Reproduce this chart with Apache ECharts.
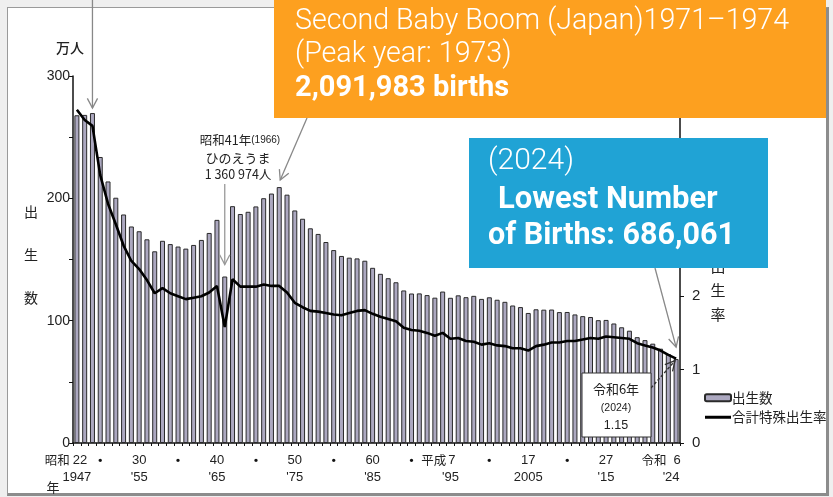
<!DOCTYPE html>
<html><head><meta charset="utf-8">
<script src="https://cdn.jsdelivr.net/npm/echarts@6/dist/echarts.min.js"></script>
<style>
html,body{margin:0;padding:0;background:#efefef;}
#wrap{position:relative;width:833px;height:497px;overflow:hidden;}
#panel{position:absolute;left:7px;top:7px;width:818px;height:485px;background:#fff;border:1px solid #9a9a9a;border-right:3px solid #8c8c8c;border-bottom:3px solid #8c8c8c;}
#c{position:absolute;left:0;top:0;width:833px;height:497px;}
</style>
</head><body><div id="wrap"><div id="panel"></div><div id="c"></div></div>
<script>
const years = ['1947','1948','1949','1950','1951','1952','1953','1954','1955','1956','1957','1958','1959','1960','1961','1962','1963','1964','1965','1966','1967','1968','1969','1970','1971','1972','1973','1974','1975','1976','1977','1978','1979','1980','1981','1982','1983','1984','1985','1986','1987','1988','1989','1990','1991','1992','1993','1994','1995','1996','1997','1998','1999','2000','2001','2002','2003','2004','2005','2006','2007','2008','2009','2010','2011','2012','2013','2014','2015','2016','2017','2018','2019','2020','2021','2022','2023','2024'];
// 出生数 (万人)
const births = [267.9,268.2,269.7,233.8,213.8,200.5,186.8,177.0,173.1,166.5,156.7,165.3,162.6,160.6,158.9,161.9,166.0,171.7,182.4,136.1,193.6,187.2,189.0,193.4,200.1,203.9,209.2,203.0,190.1,183.3,175.5,170.9,164.3,157.7,152.9,151.5,150.9,149.0,143.2,138.3,134.7,131.4,124.7,122.2,122.3,120.9,118.8,123.8,118.7,120.7,119.2,120.3,117.8,119.1,117.1,115.4,112.4,111.1,106.3,109.3,109.0,109.1,107.0,107.1,105.1,103.7,103.0,100.4,100.6,97.7,94.6,91.8,86.5,84.1,81.2,77.1,72.7,68.6];
// 合計特殊出生率
const tfr = [4.54,4.40,4.32,3.65,3.26,2.98,2.69,2.48,2.37,2.22,2.04,2.11,2.04,2.00,1.96,1.98,2.00,2.05,2.14,1.58,2.23,2.13,2.13,2.13,2.16,2.14,2.14,2.05,1.91,1.85,1.80,1.79,1.77,1.75,1.74,1.77,1.80,1.81,1.76,1.72,1.69,1.66,1.57,1.54,1.53,1.50,1.46,1.50,1.42,1.43,1.39,1.38,1.34,1.36,1.33,1.32,1.29,1.29,1.26,1.32,1.34,1.37,1.37,1.39,1.39,1.41,1.43,1.42,1.45,1.44,1.43,1.42,1.36,1.33,1.30,1.26,1.20,1.15];
const tickYears  = ['1947','1950','1955','1960','1965','1970','1975','1980','1985','1990','1995','2000','2005','2010','2015','2024'];
const tickPrefix = ['昭和','','','','','','','','','','平成','','','','','令和'];
const tickTop    = ['22','・','30','・','40','・','50','・','60','・','7','・','17','・','27','6'];
const tickBottom = ['1947','',"'55",'',"'65",'',"'75",'',"'85",'',"'95",'','2005','',"'15","'24"];
const leftTicks = ['0','100','200','300'];
const rightTicks = ['0','1','2'];

const JP = '"Noto Sans CJK JP","Noto Sans",sans-serif';
const TXT = '#222';

const option = {
  animation:false,
  backgroundColor:'transparent',
  grid:{left:73,right:153,top:76,bottom:54,containLabel:false},
  legend:{
    orient:'vertical', left:699, top:386, itemWidth:26, itemHeight:7, itemGap:6,
    textStyle:{fontSize:13.5,color:TXT,fontFamily:JP,padding:[0,0,0,-4]},
    data:[{name:'出生数',icon:'roundRect'},{name:'合計特殊出生率',icon:'path://M0,0H26V3H0Z'}]
  },
  xAxis:{
    type:'category', data:years,
    axisLine:{lineStyle:{color:'#111',width:1.5}},
    axisTick:{show:true,interval:0,length:3,lineStyle:{color:'#111'}},
    axisLabel:{
      interval:0, margin:9, color:TXT, fontFamily:'"Liberation Sans",sans-serif', fontSize:13, lineHeight:17,
      formatter:function(v){
        const i = tickYears.indexOf(v);
        if(i<0) return '';
        const pre = tickPrefix[i];
        let top;
        if(i===0) top='{pre|'+pre+'}{n1|'+tickTop[i]+'}';
        else if(i===10) top='{pre|'+pre+'}{n2|'+tickTop[i]+'}';
        else if(i===15) top='{pre|'+pre+'}{n3|'+tickTop[i]+'}';
        else if(tickTop[i]==='・') top='{d|・}';
        else top='{n|'+tickTop[i]+'}';
        const bot = i===15 ? '{b3|'+tickBottom[i]+'}' : '{b|'+tickBottom[i]+'}';
        return top+'\n'+bot;
      },
      rich:{
        n:{fontSize:13,color:TXT,lineHeight:17},
        d:{fontSize:13,color:'#111',lineHeight:17,fontFamily:JP,fontWeight:'bold'},
        n1:{fontSize:13,color:TXT,lineHeight:17,padding:[0,22,0,3]},
        n2:{fontSize:13,color:TXT,lineHeight:17,padding:[0,24,0,2]},
        n3:{fontSize:13,color:TXT,lineHeight:17,padding:[0,30,0,7]},
        pre:{fontSize:12.5,color:TXT,fontFamily:JP,lineHeight:17},
        b:{fontSize:13,color:TXT,lineHeight:17},
        b3:{fontSize:13,color:TXT,lineHeight:17,padding:[0,10,0,0]}
      }
    }
  },
  yAxis:[
    {type:'value',min:0,max:300,interval:50,
     axisLine:{show:true,lineStyle:{color:'#111',width:1.5}},
     axisTick:{show:true,length:4,lineStyle:{color:'#111'}},
     splitLine:{show:false},
     axisLabel:{margin:3,color:TXT,fontSize:14,fontFamily:'"Liberation Sans",sans-serif',
       formatter:function(v){const s=String(v);return leftTicks.indexOf(s)>=0?s:'';}}},
    {type:'value',min:0,max:5,interval:1,position:'right',
     axisLine:{show:true,lineStyle:{color:'#111',width:1.5}},
     axisTick:{show:true,length:4,lineStyle:{color:'#111'}},
     splitLine:{show:false},
     axisLabel:{margin:12,color:TXT,fontSize:15,fontFamily:'"Liberation Sans",sans-serif',
       formatter:function(v){const s=String(v);return rightTicks.indexOf(s)>=0?s:'';}}}
  ],
  series:[
    {name:'出生数',type:'bar',data:births,barWidth:5,
     itemStyle:{color:'#aca8c0',borderColor:'#2a2a2a',borderWidth:1}},
    {name:'合計特殊出生率',type:'line',yAxisIndex:1,data:tfr,symbol:'none',
     lineStyle:{color:'#000',width:2.6},itemStyle:{color:'#000'},z:5}
  ]
};

const chart = echarts.init(document.getElementById('c'),null,{renderer:'canvas'});
chart.setOption(option);

function bp(yr){const i=years.indexOf(yr);return chart.convertToPixel({seriesIndex:0},[i,births[i]]);}
function lp(yr){const i=years.indexOf(yr);return chart.convertToPixel({seriesIndex:1},[i,tfr[i]]);}

function arrow(x1,y1,x2,y2,color,dash){
  const ang=Math.atan2(y2-y1,x2-x1), L=11, a=Math.PI/6.5;
  const p1=[x2-L*Math.cos(ang-a),y2-L*Math.sin(ang-a)];
  const p2=[x2-L*Math.cos(ang+a),y2-L*Math.sin(ang+a)];
  return [
    {type:'line',z:60,shape:{x1:x1,y1:y1,x2:x2,y2:y2},style:{stroke:color,lineWidth:1.3,lineDash:dash||null}},
    {type:'polyline',z:60,shape:{points:[p1,[x2,y2],p2]},style:{stroke:color,fill:null,lineWidth:1.3}}
  ];
}
function txt(x,y,t,font,color,align,z){
  return {type:'text',z:z||110,x:x,y:y,style:{text:t,font:font,fill:color||TXT,align:align||'left',verticalAlign:'middle'}};
}

const p49=bp('1949'), p73=bp('1973'), p66=bp('1966'), p24=bp('2024'), l24=lp('2024');
const G=[];
const LIGHT='300 28.6px Roboto,"Noto Sans",sans-serif';
// axis names
G.push(txt(70,48,'万人','500 14px '+JP,TXT,'center',50));
G.push(txt(31,212,'出','14px '+JP,TXT,'center',50));
G.push(txt(31,255,'生','14px '+JP,TXT,'center',50));
G.push(txt(31,298,'数','14px '+JP,TXT,'center',50));
G.push(txt(53,487,'年','13px '+JP,TXT,'center',50));
['合','計','特','殊','出','生','率'].forEach(function(c,k){G.push(txt(718,170+24*k,c,'15px '+JP,TXT,'center',50));});
// 1966 annotation
G.push({type:'text',z:110,x:240,y:140,style:{text:'{a|昭和41年}{b|(1966)}',align:'center',verticalAlign:'middle',
  rich:{a:{font:'12.5px '+JP,fill:TXT},b:{font:'10px "Liberation Sans",sans-serif',fill:TXT}}}});
G.push(txt(238,158,'ひのえうま','13px '+JP,TXT,'center'));
G.push(txt(238,174,'1 360 974人','12.5px '+JP,TXT,'center'));
G.push.apply(G,arrow(p66[0],184,p66[0],p66[1]-12,'#999'));
// 1949 arrow
G.push.apply(G,arrow(p49[0],0,p49[0],p49[1]-5,'#888'));
// orange box
G.push({type:'rect',z:100,shape:{x:274,y:0,width:552,height:118},style:{fill:'#fda01f'}});
G.push(txt(295,22,'Second Baby Boom (Japan)1971–1974',LIGHT,'#fff'));
G.push(txt(295,55,'(Peak year: 1973)',LIGHT,'#fff'));
G.push(txt(295,89,'2,091,983 births','bold 29px Roboto,"Noto Sans",sans-serif','#fff'));
G.push.apply(G,arrow(307,118,p73[0]+1,p73[1]-7,'#888'));
// blue box
G.push({type:'rect',z:100,shape:{x:469,y:138,width:299,height:130},style:{fill:'#20a3d5'}});
G.push(txt(488,161,'(2024)','300 30px Roboto,"Noto Sans",sans-serif','#fff'));
G.push(txt(498,200,'Lowest Number','bold 31px Roboto,"Noto Sans",sans-serif','#fff'));
G.push(txt(488,236,'of Births: 686,061','bold 30.5px Roboto,"Noto Sans",sans-serif','#fff'));
G.push.apply(G,arrow(655,268,p24[0],p24[1]-12,'#888'));
// 2024 box
G.push({type:'rect',z:100,shape:{x:582,y:373,width:69,height:64},style:{fill:'#fff',stroke:'#333',lineWidth:1}});
G.push(txt(616,389,'令和6年','13px '+JP,TXT,'center'));
G.push(txt(616,408,'(2024)','10.5px "Liberation Sans",sans-serif',TXT,'center'));
G.push(txt(616,426,'1.15','12.5px "Liberation Sans",sans-serif',TXT,'center'));
G.push.apply(G,arrow(651,388,l24[0]-1,l24[1]+2,'#333',[3,2]));

chart.setOption({graphic:{elements:G}});
</script>
</body></html>
